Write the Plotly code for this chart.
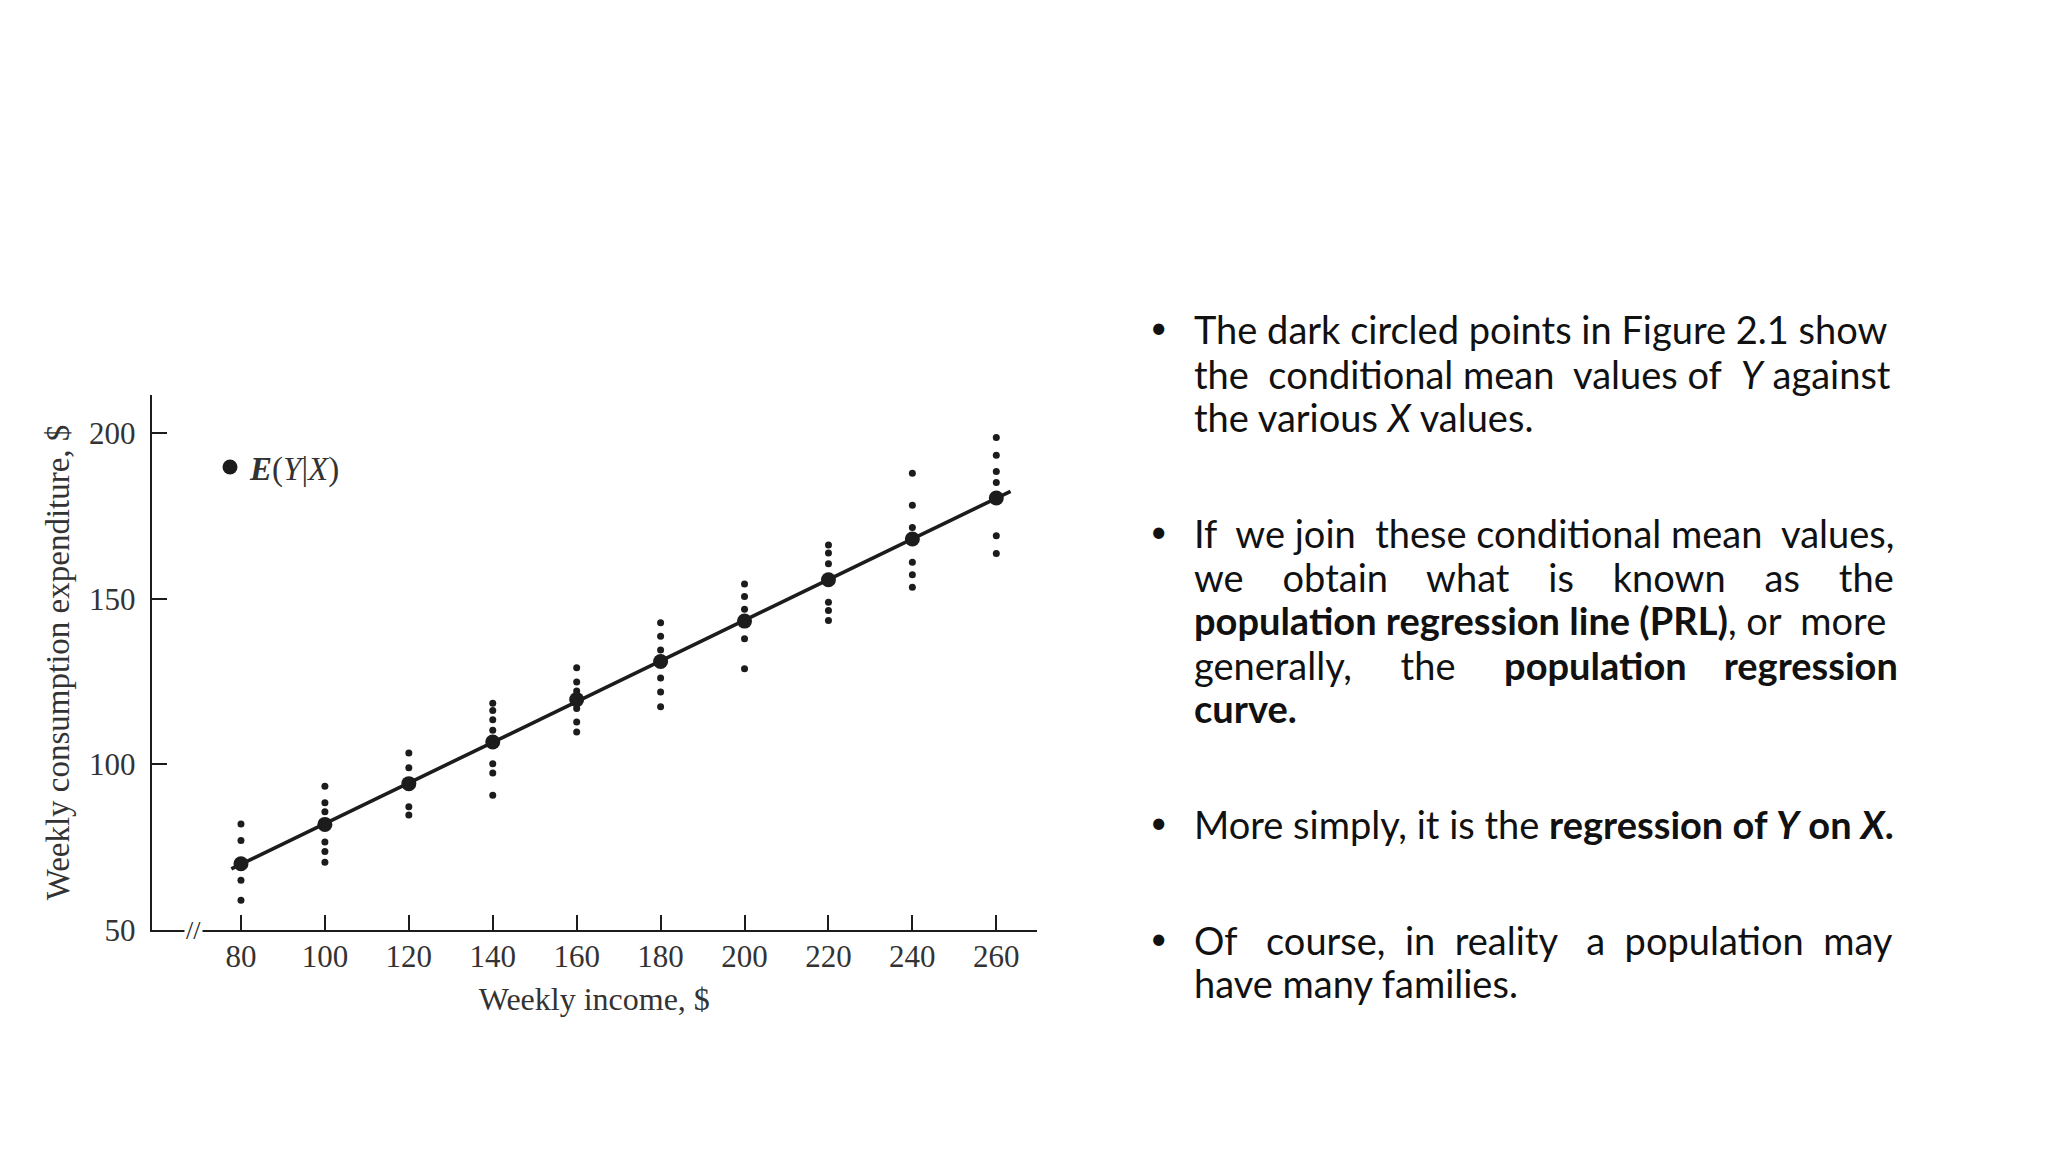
import numpy as np
import plotly.graph_objects as go

# ---------------- data ----------------
income = [80, 100, 120, 140, 160, 180, 200, 220, 240, 260]
consumption = [
    [59, 65, 77, 82],
    [70.5, 73.7, 76.6, 85.7, 88.4, 93.4],
    [84.7, 87.2, 99.0, 103.5],
    [90.7, 97.4, 100.2, 110.3, 113.5, 116.3, 118.5],
    [109.8, 112.8, 116.9, 122.2, 124.9, 129.2],
    [117.4, 121.9, 126.1, 134.6, 138.7, 142.8],
    [128.9, 138.0, 146.9, 150.7, 154.5],
    [143.5, 146.5, 149.0, 160.6, 163.9, 166.3],
    [153.5, 157.3, 161.1, 171.6, 178.3, 188.0],
    [163.7, 169.1, 185.2, 188.5, 193.4, 198.8],
]
cond_means = [70.0, 81.9, 94.2, 106.8, 119.6, 131.1, 143.3, 155.8, 168.1, 180.5]
prl_x_range = [77.7, 263.4]
x_ticks = [80, 100, 120, 140, 160, 180, 200, 220, 240, 260]
y_ticks = [50, 100, 150, 200]

W, H = 2048, 1152
INK = "#1c1c1c"
SERIF = "Liberation Serif, Times New Roman, serif"
SANS = "Lato, Carlito, Calibri, sans-serif"

scatter_x = [x for x, ys in zip(income, consumption) for _ in ys]
scatter_y = [y for ys in consumption for y in ys]

slope, intercept = np.polyfit(income, cond_means, 1)
line_x = np.array(prl_x_range)
line_y = slope * line_x + intercept

fig = go.Figure()
fig.add_trace(go.Scatter(x=scatter_x, y=scatter_y, mode="markers",
                         marker=dict(size=7, color=INK), showlegend=False,
                         hoverinfo="x+y"))
fig.add_trace(go.Scatter(x=line_x, y=line_y, mode="lines",
                         line=dict(color=INK, width=3.6), showlegend=False))
fig.add_trace(go.Scatter(x=income, y=cond_means, mode="markers",
                         marker=dict(size=15, color=INK),
                         name="<b><i>E</i></b>(<i>Y</i>|<i>X</i>)", showlegend=True))

def px_x(p):
    return p / W

def px_y(p):
    return 1 - p / H

fig.update_layout(
    width=W, height=H,
    margin=dict(l=0, r=0, t=0, b=0),
    paper_bgcolor="white", plot_bgcolor="white",
    showlegend=True,
    legend=dict(x=px_x(210), y=px_y(467), xanchor="left", yanchor="middle",
                font=dict(family=SERIF, size=33, color="#333"),
                bgcolor="rgba(0,0,0,0)", borderwidth=0),
    xaxis=dict(domain=[px_x(151.6), px_x(1037)], range=[58.7, 269.7],
               automargin=False,
               showgrid=False, zeroline=False, showline=True,
               linecolor=INK, linewidth=2, ticks="inside", ticklen=15,
               tickwidth=1.6, tickcolor=INK, tickvals=x_ticks,
               tickfont=dict(family=SERIF, size=31, color="#333"),
               ticklabelstandoff=-2,
               title=dict(text="Weekly income, $", standoff=14,
                          font=dict(family=SERIF, size=32, color="#333"))),
    yaxis=dict(domain=[px_y(930), px_y(395)], range=[50, 211.6],
               automargin=False,
               showgrid=False, zeroline=False, showline=True,
               linecolor=INK, linewidth=2, ticks="inside", ticklen=15,
               tickwidth=1.6, tickcolor=INK, tickvals=y_ticks,
               tickfont=dict(family=SERIF, size=31, color="#333"),
               ticklabelstandoff=8,
               title=dict(text="Weekly consumption expenditure, $", standoff=9,
                          font=dict(family=SERIF, size=33, color="#333"))),
)

# axis break mark
fig.add_annotation(x=68.6, y=50, xref="x", yref="y", text="//", showarrow=False,
                   font=dict(family=SERIF, size=26, color=INK), bgcolor="white")

# ---------------- bullet text ----------------
def spread(text, extra):
    """Justify-like spacing: widen gaps by a number of no-break spaces."""
    parts = text.split(" ")
    out = parts[0]
    for i, p in enumerate(parts[1:]):
        n = extra[i] if isinstance(extra, list) else extra
        out += " " + "\u00a0" * n + p
    return out

lines = [
    (329, True, "The dark circled points in Figure 2.1 show"),
    (373.5, False, spread("the conditional mean values of <i>Y</i> against", [1, 0, 1, 0, 1, 0])),
    (416.6, False, "the various <i>X</i> values."),
    (533, True, spread("If we join these conditional mean values,", [1, 0, 1, 0, 0, 1])),
    (577, False, spread("we obtain what is known as the", 3)),
    (620, False, "<b>population regression line (PRL)</b>, or\u00a0 more"),
    (665, False, spread("generally, the <b>population regression</b>", [4, 4, 3])),
    (708, False, "<b>curve.</b>"),
    (824, True, "More simply, it is the <b>regression of <i>Y</i> on <i>X</i>.</b>"),
    (940, True, spread("Of course, in reality a population may", [2, 1, 1, 2, 1, 1])),
    (983, False, "have many families."),
]
for yy, bullet, txt in lines:
    fig.add_annotation(x=px_x(1192), y=px_y(yy), xref="paper", yref="paper",
                       xanchor="left", yanchor="middle", showarrow=False,
                       text=txt, font=dict(family=SANS, size=38, color="#111"))
    if bullet:
        fig.add_annotation(x=px_x(1158), y=px_y(yy - 3), xref="paper", yref="paper",
                           xanchor="center", yanchor="middle", showarrow=False,
                           text="•", font=dict(family=SANS, size=30, color="#111"))

fig.write_html("out.html", config={"displayModeBar": False},
               post_script="document.body.style.margin='0';")
